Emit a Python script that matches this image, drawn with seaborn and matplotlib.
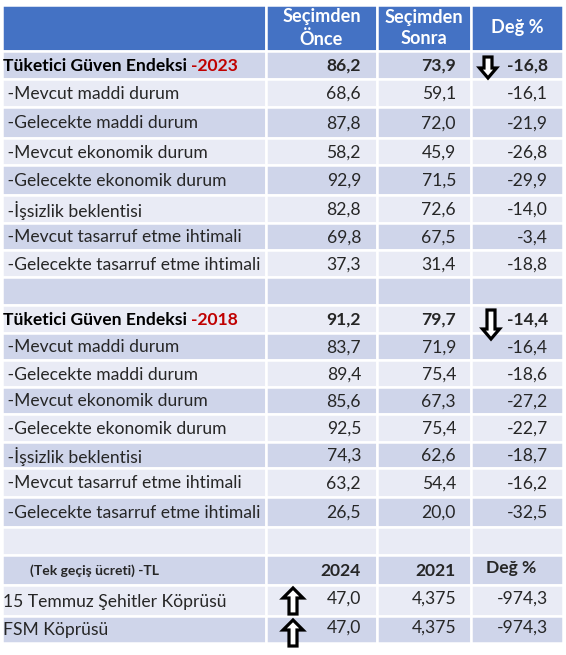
import numpy as np
import matplotlib.pyplot as plt
import matplotlib.patches as mpatches
import seaborn as sns

# Table data
head_cols = ["Seçimden\nÖnce", "Seçimden\nSonra", "Değ %"]
labels = [" -Mevcut maddi durum", " -Gelecekte maddi durum", " -Mevcut ekonomik durum",
          " -Gelecekte ekonomik durum", " -İşsizlik beklentisi", " -Mevcut tasarruf etme ihtimali",
          " -Gelecekte tasarruf etme ihtimali"]

once_2023 = [86.2, 68.6, 87.8, 58.2, 92.9, 82.8, 69.8, 37.3]
sonra_2023 = [73.9, 59.1, 72.0, 45.9, 71.5, 72.6, 67.5, 31.4]
deg_2023 = [-16.8, -16.1, -21.9, -26.8, -29.9, -14.0, -3.4, -18.8]

once_2018 = [91.2, 83.7, 89.4, 85.6, 92.5, 74.3, 63.2, 26.5]
sonra_2018 = [79.7, 71.9, 75.4, 67.3, 75.4, 62.6, 54.4, 20.0]
deg_2018 = [-14.4, -16.4, -18.6, -27.2, -22.7, -18.7, -16.2, -32.5]

fee_head = ["(Tek geçiş ücreti) -TL", "2024", "2021", "Değ %"]
bridges = ["15 Temmuz Şehitler Köprüsü", "FSM Köprüsü"]
fee_2024 = [47.0, 47.0]
fee_2021 = [4.375, 4.375]
fee_deg = [-974.3, -974.3]

sns.set_theme(style="white")
plt.rcParams['font.family'] = ['Lato', 'DejaVu Sans']

HEAD = "#4472C4"
DARK = "#CFD5EA"
LIGHT = "#E9EBF5"
RED = "#C00000"
FS = 12.6


def fmt(v, nd=1):
    return f"{v:.{nd}f}".replace('.', ',')


# layout (pixels)
col_edges = [2, 266, 377, 471, 563]
row_edges = [5, 51, 79, 107, 138, 165, 195, 223, 250, 277, 305, 333, 360, 387, 414,
             442, 468, 497, 527, 555, 585, 616, 643]
val_right = [361, 456, 548]

fig = plt.figure(figsize=(5.66, 6.55), dpi=100)
ax = fig.add_axes([0, 0, 1, 1])
ax.set_xlim(0, 566)
ax.set_ylim(655, 0)
ax.axis('off')

# cell backgrounds
n_rows = len(row_edges) - 1
for r in range(n_rows):
    top, bot = row_edges[r], row_edges[r + 1]
    color = HEAD if r == 0 else (DARK if (r - 1) % 2 == 0 else LIGHT)
    for c in range(4):
        ax.bar(col_edges[c], bot - top, width=col_edges[c + 1] - col_edges[c], bottom=top,
               align='edge', color=color, edgecolor='white', linewidth=1.8)


def yc(r):
    return (row_edges[r] + row_edges[r + 1]) / 2 + 1


# header
for c, h in enumerate(head_cols):
    ax.text((col_edges[c + 1] + col_edges[c + 2]) / 2, yc(0) - 1, h, color='white',
            fontsize=FS + 0.5, fontweight='bold', ha='center', va='center', linespacing=1.3)


def section(start, year, once, sonra, deg):
    y = yc(start)
    t = ax.text(3, y, "Tüketici Güven Endeksi", fontsize=FS, fontweight='bold',
                ha='left', va='center', color='black')
    fig.canvas.draw()
    bb = t.get_window_extent().transformed(ax.transData.inverted())
    ax.text(bb.x1 + 4, y, "-" + year, fontsize=FS, fontweight='bold', ha='left', va='center', color=RED)
    for k, vals in enumerate([once, sonra, deg]):
        ax.text(val_right[k], y, fmt(vals[0]), fontsize=FS, fontweight='bold', ha='right', va='center')
    for i, lab in enumerate(labels):
        r = start + 1 + i
        ax.text(3, yc(r), lab, fontsize=FS, ha='left', va='center')
        for k, vals in enumerate([once, sonra, deg]):
            ax.text(val_right[k], yc(r), fmt(vals[i + 1]), fontsize=FS, ha='right', va='center')


def block_arrow(x, y0, y1, hw=17):
    # hollow block arrow from y0 to y1
    ax.add_patch(mpatches.FancyArrow(x, y0, 0, y1 - y0, width=8, head_width=hw,
                                     head_length=10, length_includes_head=True,
                                     facecolor='white', edgecolor='black', linewidth=2.3))


section(1, "2023", once_2023, sonra_2023, deg_2023)
section(10, "2018", once_2018, sonra_2018, deg_2018)
block_arrow(488, 57, 78)
block_arrow(491, 310, 339)

# bridge fees
ax.text(30, yc(19), fee_head[0], fontsize=10, fontweight='bold', ha='left', va='center')
ax.text(val_right[0], yc(19), fee_head[1], fontsize=FS, fontweight='bold', ha='right', va='center')
ax.text(val_right[1], yc(19), fee_head[2], fontsize=FS, fontweight='bold', ha='right', va='center')
ax.text(486, yc(19) - 3, fee_head[3], fontsize=FS, fontweight='bold', ha='left', va='center')
for i, b in enumerate(bridges):
    r = 20 + i
    ax.text(3, yc(r), b, fontsize=FS, ha='left', va='center')
    ax.text(val_right[0], yc(r) - 3, fmt(fee_2024[i]), fontsize=FS, ha='right', va='center')
    ax.text(val_right[1], yc(r) - 3, fmt(fee_2021[i], 3), fontsize=FS, ha='right', va='center')
    ax.text(val_right[2], yc(r) - 3, fmt(fee_deg[i]), fontsize=FS, ha='right', va='center')
block_arrow(293, 614, 588, hw=20)
block_arrow(293, 646, 620, hw=20)

fig.savefig("out.png", dpi=100)
